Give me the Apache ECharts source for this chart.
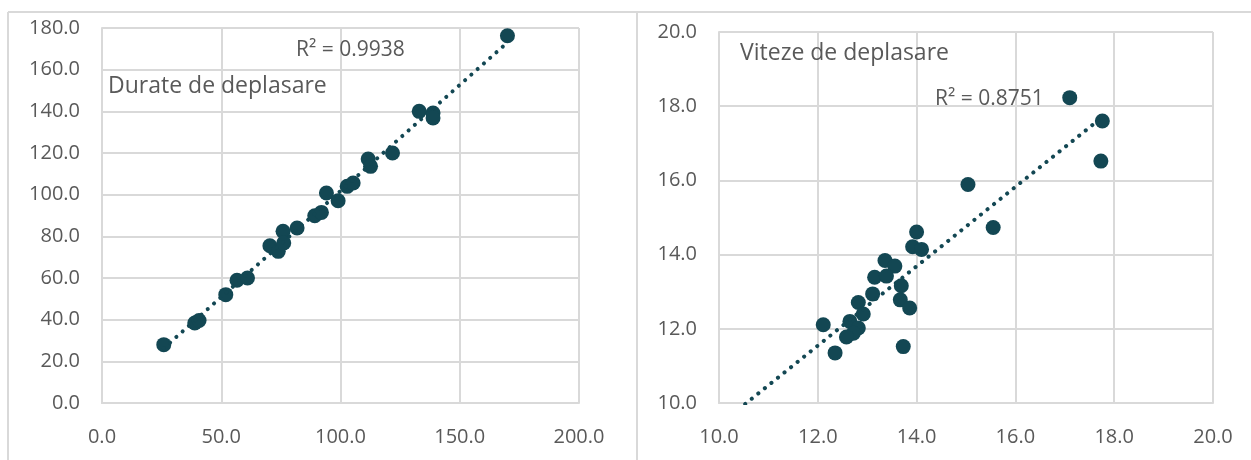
<!DOCTYPE html>
<html>
<head>
<meta charset="utf-8">
<script src="https://cdn.jsdelivr.net/npm/echarts@6/dist/echarts.min.js"></script>
<style>html,body{margin:0;padding:0;background:#fff;}#c{width:1251px;height:460px;}</style>
</head>
<body>
<div id="c"></div>
<script>
// ---- Data ----
const duratX = [25.9, 38.9, 40.7, 51.9, 56.6, 61.0, 70.4, 73.9, 75.9, 76.2, 81.8, 89.2, 92.0, 94.1, 99.0, 102.8, 105.3, 111.6, 112.6, 121.8, 133.0, 138.8, 138.8, 170.0];
const duratY = [28.0, 38.4, 39.6, 52.0, 58.9, 60.0, 75.5, 72.8, 82.4, 76.8, 84.0, 89.9, 91.5, 100.8, 97.1, 104.0, 105.6, 117.1, 113.6, 120.0, 140.0, 139.2, 136.8, 176.3];
const vitezX = [13.92, 14.10, 13.36, 13.56, 13.15, 13.39, 13.69, 13.11, 13.67, 13.86, 12.82, 12.92, 12.11, 12.65, 12.82, 12.72, 12.58, 12.35, 13.73, 14.00, 15.04, 15.55, 17.10, 17.76, 17.73];
const vitezY = [14.21, 14.14, 13.84, 13.69, 13.39, 13.42, 13.16, 12.94, 12.78, 12.56, 12.71, 12.40, 12.11, 12.20, 12.02, 11.88, 11.78, 11.35, 11.52, 14.61, 15.89, 14.73, 18.23, 17.60, 16.52];
const titles = ["Durate de deplasare", "Viteze de deplasare"];
const r2Labels = ["R² = 0.9938", "R² = 0.8751"];
const xTicks1 = [0, 50, 100, 150, 200];
const yTicks1 = [0, 20, 40, 60, 80, 100, 120, 140, 160, 180];
const xTicks2 = [10, 12, 14, 16, 18, 20];
const yTicks2 = [10, 12, 14, 16, 18, 20];

// ---- Helpers ----
function zip(a, b) { return a.map((v, i) => [v, b[i]]); }
function linreg(xs, ys) {
  const n = xs.length;
  const mx = xs.reduce((s, v) => s + v, 0) / n;
  const my = ys.reduce((s, v) => s + v, 0) / n;
  let sxy = 0, sxx = 0;
  for (let i = 0; i < n; i++) { sxy += (xs[i] - mx) * (ys[i] - my); sxx += (xs[i] - mx) ** 2; }
  const b = sxy / sxx; return { b: b, a: my - b * mx };
}
const reg1 = linreg(duratX, duratY);
const reg2 = linreg(vitezX, vitezY);
const x1min = Math.min(...duratX), x1max = Math.max(...duratX);
const x2min = xTicks2[0], x2max = Math.max(...vitezX);
const trend1 = [[x1min, reg1.a + reg1.b * x1min], [x1max, reg1.a + reg1.b * x1max]];
const trend2 = [[x2min, reg2.a + reg2.b * x2min], [x2max, reg2.a + reg2.b * x2max]];

const FONT = "'Open Sans', 'Noto Sans', sans-serif";
const TXT = '#595959';
const GRID = '#d9d9d9';
const MARK = '#134753';

function axis(idx, ticks, isX) {
  const step = ticks[1] - ticks[0];
  return {
    type: 'value', gridIndex: idx,
    min: ticks[0], max: ticks[ticks.length - 1], interval: step,
    axisLine: { show: true, lineStyle: { color: GRID, width: 2 } },
    axisTick: { show: false },
    splitLine: { show: true, lineStyle: { color: GRID, width: 2 } },
    axisLabel: {
      color: TXT, fontFamily: FONT, fontSize: 20, margin: isX ? 24 : 22,
      formatter: v => v.toFixed(1), showMinLabel: true, showMaxLabel: true
    }
  };
}

const chart = echarts.init(document.getElementById('c'), null, { renderer: 'canvas' });
chart.setOption({
  animation: false,
  backgroundColor: '#fff',
  grid: [
    { left: 102, top: 28, width: 477, height: 375 },
    { left: 719, top: 32, width: 494, height: 371 }
  ],
  xAxis: [axis(0, xTicks1, true), axis(1, xTicks2, true)],
  yAxis: [axis(0, yTicks1, false), axis(1, yTicks2, false)],
  graphic: [
    { type: 'line', shape: { x1: 8, y1: 12, x2: 1251, y2: 12 }, style: { stroke: GRID, lineWidth: 2 } },
    { type: 'line', shape: { x1: 8, y1: 12, x2: 8, y2: 460 }, style: { stroke: GRID, lineWidth: 2 } },
    { type: 'line', shape: { x1: 637, y1: 12, x2: 637, y2: 460 }, style: { stroke: GRID, lineWidth: 2 } },
    { type: 'text', left: 108, top: 75, z: 10, style: { text: titles[0], fill: TXT, font: "23px " + FONT } },
    { type: 'text', left: 740, top: 42, z: 10, style: { text: titles[1], fill: TXT, font: "23px " + FONT } },
    { type: 'text', left: 296, top: 40, z: 10, style: { text: r2Labels[0], fill: TXT, font: "21px " + FONT } },
    { type: 'text', left: 935, top: 89, z: 10, style: { text: r2Labels[1], fill: TXT, font: "21px " + FONT } }
  ],
  series: [
    { type: 'line', xAxisIndex: 0, yAxisIndex: 0, data: trend1, symbol: 'none', clip: true,
      lineStyle: { color: MARK, width: 4, type: [0.1, 8.3], cap: 'round' }, z: 3 },
    { type: 'scatter', xAxisIndex: 0, yAxisIndex: 0, data: zip(duratX, duratY), symbolSize: 15,
      itemStyle: { color: MARK, opacity: 1 }, z: 2 },
    { type: 'line', xAxisIndex: 1, yAxisIndex: 1, data: trend2, symbol: 'none', clip: true,
      lineStyle: { color: MARK, width: 4, type: [0.1, 8.3], cap: 'round' }, z: 3 },
    { type: 'scatter', xAxisIndex: 1, yAxisIndex: 1, data: zip(vitezX, vitezY), symbolSize: 15,
      itemStyle: { color: MARK, opacity: 1 }, z: 2 }
  ]
});
</script>
</body>
</html>
